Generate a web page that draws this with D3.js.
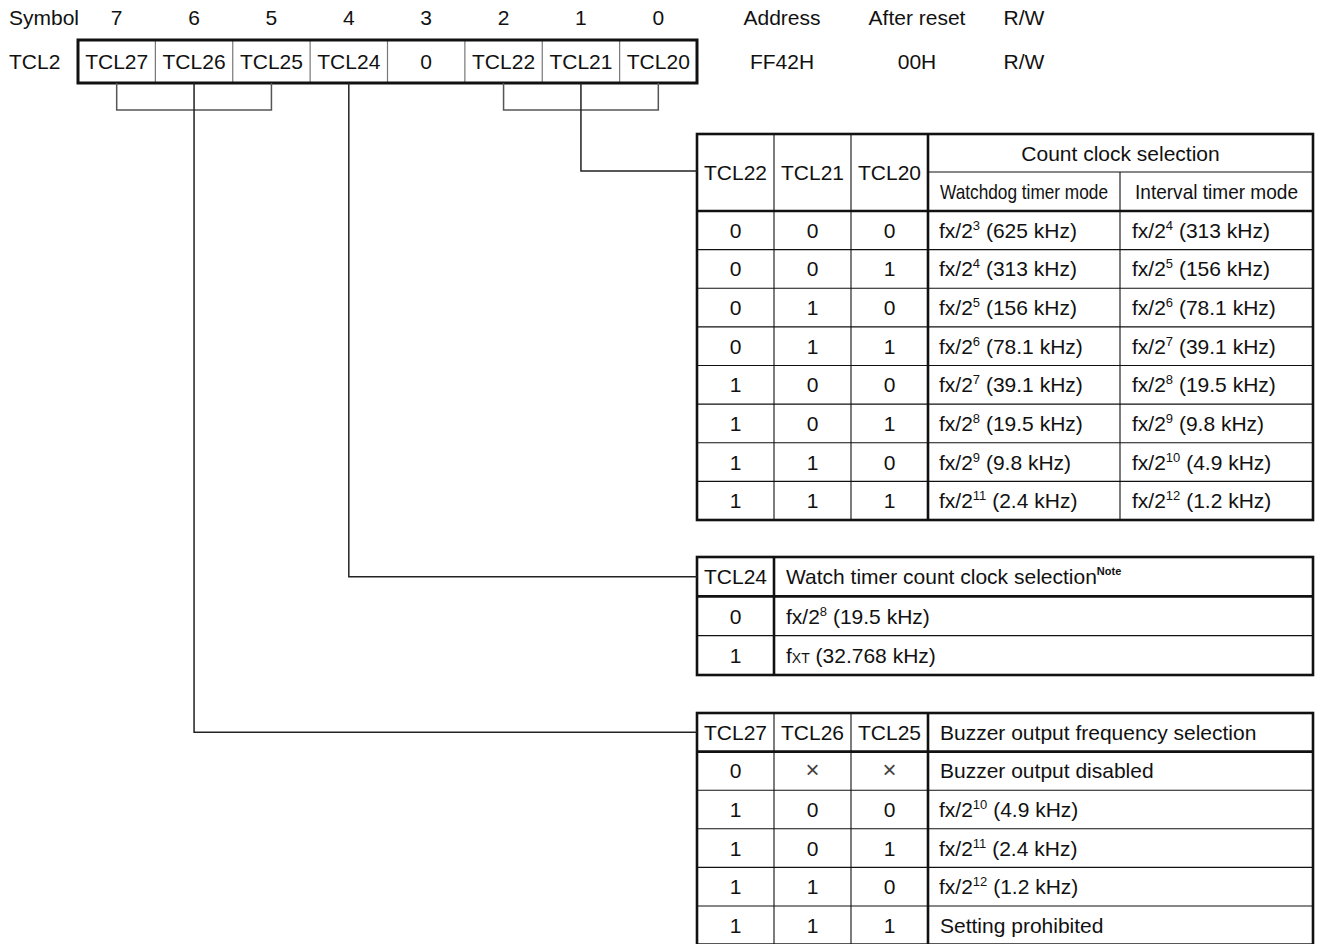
<!DOCTYPE html>
<html><head><meta charset="utf-8">
<script src="https://cdn.jsdelivr.net/npm/d3@7"></script>
<style>
html,body{margin:0;padding:0;background:#fff;}
svg{display:block;}
text{font-family:"Liberation Sans",Arial,Helvetica,sans-serif;fill:#111;}
</style></head>
<body>
<svg id="c" width="1321" height="944"></svg>
<script>
// ---------- data ----------
const bitNumbers = [7,6,5,4,3,2,1,0];
const registerBits = ["TCL27","TCL26","TCL25","TCL24","0","TCL22","TCL21","TCL20"];
const regInfoHeaders = ["Address","After reset","R/W"];
const regInfoValues = ["FF42H","00H","R/W"];
const registerName = "TCL2";

// Count clock selection table
const cntHeaders = ["TCL22","TCL21","TCL20"];
const tcl22 = [0,0,0,0,1,1,1,1];
const tcl21 = [0,0,1,1,0,0,1,1];
const tcl20 = [0,1,0,1,0,1,0,1];
const watchdogExp = [3,4,5,6,7,8,9,11];
const watchdogFreq = ["625 kHz","313 kHz","156 kHz","78.1 kHz","39.1 kHz","19.5 kHz","9.8 kHz","2.4 kHz"];
const intervalExp = [4,5,6,7,8,9,10,12];
const intervalFreq = ["313 kHz","156 kHz","78.1 kHz","39.1 kHz","19.5 kHz","9.8 kHz","4.9 kHz","1.2 kHz"];

// Watch timer table
const tcl24 = [0,1];
const watchKind = ["fx","fxt"];
const watchExp = [8,null];
const watchFreq = ["19.5 kHz","32.768 kHz"];

// Buzzer table
const buzHeaders = ["TCL27","TCL26","TCL25"];
const tcl27 = ["0","1","1","1","1"];
const tcl26 = ["\u00d7","0","0","1","1"];
const tcl25 = ["\u00d7","0","1","0","1"];
const buzText = ["Buzzer output disabled",null,null,null,"Setting prohibited"];
const buzExp = [null,10,11,12,null];
const buzFreq = [null,"4.9 kHz","2.4 kHz","1.2 kHz",null];

// ---------- drawing ----------
const svg = d3.select("#c");
const FS = 21;
const THICK = 2.6, THIN = 1.1;

function line(x1,y1,x2,y2,w,col){
  svg.append("line").attr("x1",x1).attr("y1",y1).attr("x2",x2).attr("y2",y2)
    .attr("stroke",col||"#111").attr("stroke-width",w);
}
function txt(x,y,s,anchor,size){
  return svg.append("text").attr("x",x).attr("y",y).attr("text-anchor",anchor||"middle")
    .attr("font-size",size||FS).text(s);
}
function fxText(x,y,exp,freq){
  const t = svg.append("text").attr("x",x).attr("y",y).attr("font-size",FS);
  t.append("tspan").text("f");
  t.append("tspan").text("x");
  t.append("tspan").text("/2");
  t.append("tspan").attr("dy",-8).attr("font-size",13).text(exp);
  t.append("tspan").attr("dy",8).text(" (" + freq + ")");
  return t;
}
function fxtText(x,y,freq){
  const t = svg.append("text").attr("x",x).attr("y",y).attr("font-size",FS);
  t.append("tspan").text("f");
  t.append("tspan").attr("font-size",14).text("XT");
  t.append("tspan").text(" (" + freq + ")");
  return t;
}

// register
const regX = d3.scaleBand().domain(bitNumbers).range([78,697]);
const regTop = 40, regBot = 83, regMid = (regTop+regBot)/2;
const BASE = 7.5;

txt(9,17+BASE,"Symbol","start");
bitNumbers.forEach(b=>txt(regX(b)+regX.bandwidth()/2,17+BASE,b));
txt(9,regMid+BASE,registerName,"start");
bitNumbers.forEach((b,i)=>{
  txt(regX(b)+regX.bandwidth()/2,regMid+BASE,registerBits[i]);
  if(i>0) line(regX(b),regTop,regX(b),regBot,1.2,"#777");
});
svg.append("rect").attr("x",regX.range()[0]).attr("y",regTop)
  .attr("width",regX.range()[1]-regX.range()[0]).attr("height",regBot-regTop)
  .attr("fill","none").attr("stroke","#111").attr("stroke-width",3);

const infoX = [782,917,1024];
regInfoHeaders.forEach((h,i)=>txt(infoX[i],17+BASE,h));
regInfoValues.forEach((h,i)=>txt(infoX[i],regMid+BASE,h));

// tables
function drawTable(cols, rowY, thickCols, thickRows){
  const x0 = cols[0], x1 = cols[cols.length-1];
  const y0 = rowY[0], y1 = rowY[rowY.length-1];
  rowY.slice(1,-1).forEach(y=>{
    const th = thickRows.includes(y);
    line(x0,y,x1,y,th?THICK:THIN,"#111");
  });
  cols.slice(1,-1).forEach(x=>{
    const th = thickCols.includes(x);
    line(x,y0,x,y1,th?THICK:THIN,"#111");
  });
  svg.append("rect").attr("x",x0).attr("y",y0).attr("width",x1-x0).attr("height",y1-y0)
    .attr("fill","none").attr("stroke","#111").attr("stroke-width",THICK);
}
const center = (a,b)=>(a+b)/2;

// Table 1: count clock
const t1Cols = [697,774,851,928,1120,1313];
const t1HeadTop = 134, t1HeadMid = 172, t1HeadBot = 211;
const t1Y = d3.scaleBand().domain(d3.range(tcl22.length)).range([t1HeadBot,520]);
const t1Rows = [t1HeadTop,t1HeadBot].concat(d3.range(1,tcl22.length).map(i=>t1Y(i)),[520]);
t1Rows.slice(1,-1).forEach(y=>line(t1Cols[0],y,t1Cols[5],y,y===t1HeadBot?THICK:THIN));
line(t1Cols[3],t1HeadMid,t1Cols[5],t1HeadMid,THIN);
[1,2].forEach(i=>line(t1Cols[i],t1HeadTop,t1Cols[i],520,THIN));
line(t1Cols[3],t1HeadTop,t1Cols[3],520,THICK);
line(t1Cols[4],t1HeadMid,t1Cols[4],520,THIN);
svg.append("rect").attr("x",697).attr("y",t1HeadTop).attr("width",1313-697).attr("height",520-t1HeadTop)
  .attr("fill","none").attr("stroke","#111").attr("stroke-width",THICK);

cntHeaders.forEach((h,i)=>txt(center(t1Cols[i],t1Cols[i+1]),center(t1HeadTop,t1HeadBot)+BASE,h));
txt(center(t1Cols[3],t1Cols[5]),center(t1HeadTop,t1HeadMid)+BASE,"Count clock selection");
txt(center(t1Cols[3],t1Cols[4]),center(t1HeadMid,t1HeadBot)+BASE,"Watchdog timer mode")
  .attr("textLength",168).attr("lengthAdjust","spacingAndGlyphs");
txt(center(t1Cols[4],t1Cols[5]),center(t1HeadMid,t1HeadBot)+BASE,"Interval timer mode")
  .attr("textLength",163).attr("lengthAdjust","spacingAndGlyphs");
tcl22.forEach((v,i)=>{
  const cy = t1Y(i)+t1Y.bandwidth()/2+BASE;
  txt(center(t1Cols[0],t1Cols[1]),cy,tcl22[i]);
  txt(center(t1Cols[1],t1Cols[2]),cy,tcl21[i]);
  txt(center(t1Cols[2],t1Cols[3]),cy,tcl20[i]);
  fxText(t1Cols[3]+11,cy,watchdogExp[i],watchdogFreq[i]);
  fxText(t1Cols[4]+12,cy,intervalExp[i],intervalFreq[i]);
});

// Table 2: watch timer
const t2Cols = [697,774,1313];
const t2Y = d3.scaleBand().domain(d3.range(tcl24.length+1)).range([557,675]);
const t2Rows = d3.range(tcl24.length+1).map(i=>t2Y(i)).concat([675]);
drawTable(t2Cols,t2Rows,[774],[t2Y(1)]);
const t2Head = t2Y(0)+t2Y.bandwidth()/2;
txt(center(697,774),t2Head+BASE,"TCL24");
const nt = txt(t2Cols[1]+12,t2Head+BASE,"Watch timer count clock selection","start");
nt.append("tspan").attr("dy",-9).attr("font-size",11).attr("font-weight","bold").text("Note");
tcl24.forEach((v,i)=>{
  const cy = t2Y(i+1)+t2Y.bandwidth()/2+BASE;
  txt(center(697,774),cy,v);
  if(watchKind[i]==="fx") fxText(t2Cols[1]+12,cy,watchExp[i],watchFreq[i]);
  else fxtText(t2Cols[1]+12,cy,watchFreq[i]);
});

// Table 3: buzzer
const t3Cols = [697,774,851,928,1313];
const t3Y = d3.scaleBand().domain(d3.range(tcl27.length+1)).range([713,713+6*38.6]);
const t3Bot = 713+6*38.6;
const t3Rows = d3.range(tcl27.length+1).map(i=>t3Y(i)).concat([t3Bot]);
drawTable(t3Cols,t3Rows,[928],[t3Y(1)]);
const t3Head = t3Y(0)+t3Y.bandwidth()/2;
buzHeaders.forEach((h,i)=>txt(center(t3Cols[i],t3Cols[i+1]),t3Head+BASE,h));
txt(t3Cols[3]+12,t3Head+BASE,"Buzzer output frequency selection","start");
tcl27.forEach((v,i)=>{
  const cy = t3Y(i+1)+t3Y.bandwidth()/2+BASE;
  [tcl27,tcl26,tcl25].forEach((arr,j)=>{
    const s = arr[i];
    if(s==="\u00d7") txt(center(t3Cols[j],t3Cols[j+1]),cy,s,"middle",24).style("fill","#444").style("font-weight","300");
    else txt(center(t3Cols[j],t3Cols[j+1]),cy,s);
  });
  if(buzText[i]) txt(t3Cols[3]+12,cy,buzText[i],"start");
  else fxText(t3Cols[3]+11,cy,buzExp[i],buzFreq[i]);
});

// brackets and connectors
const cx = b=>regX(b)+regX.bandwidth()/2;
const brY = 110;
function bracket(bL,bR){
  svg.append("path").attr("d",`M${cx(bL)},${regBot}V${brY}H${cx(bR)}V${regBot}`)
    .attr("fill","none").attr("stroke","#555").attr("stroke-width",1.5);
}
bracket(7,5);
bracket(2,0);
function connector(b,y){
  svg.append("path").attr("d",`M${cx(b)},${regBot}V${y}H697`)
    .attr("fill","none").attr("stroke","#222").attr("stroke-width",1.5);
}
connector(1,center(t1HeadTop,t1HeadBot)-1.5);
connector(4,t2Head);
connector(6,t3Head);
</script>
</body></html>
